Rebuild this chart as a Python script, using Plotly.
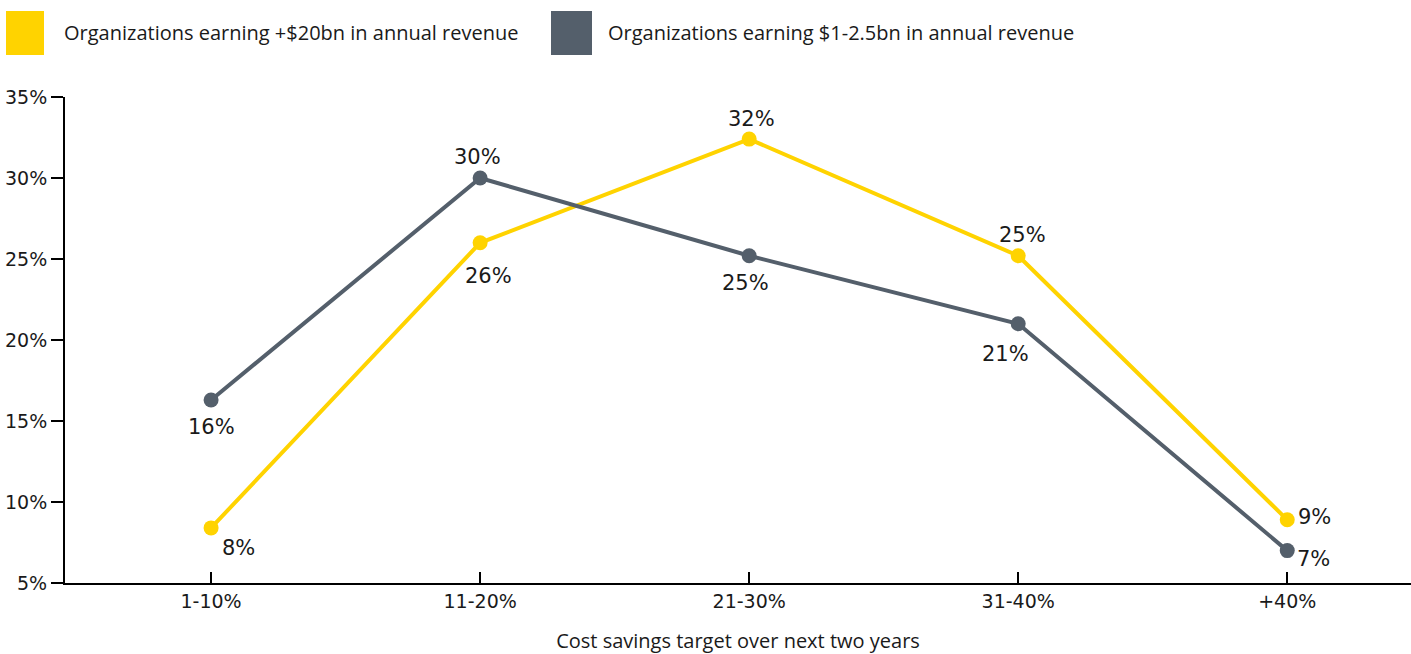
import plotly.graph_objects as go

categories = ["1-10%", "11-20%", "21-30%", "31-40%", "+40%"]
large_org = [8.4, 26.0, 32.4, 25.2, 8.9]
mid_org = [16.3, 30.0, 25.2, 21.0, 7.0]
large_labels = ["8%", "26%", "32%", "25%", "9%"]
mid_labels = ["16%", "30%", "25%", "21%", "7%"]
series_names = ["Organizations earning +$20bn in annual revenue",
                "Organizations earning $1-2.5bn in annual revenue"]
y_ticks = [5, 10, 15, 20, 25, 30, 35]
y_ticktext = ["5%", "10%", "15%", "20%", "25%", "30%", "35%"]

YELLOW = "#FFD300"
GRAY = "#545F6B"
TXT = "#1a1a1a"

fig = go.Figure()
fig.add_trace(go.Scatter(x=categories, y=large_org, mode="lines+markers",
                         line=dict(color=YELLOW, width=4),
                         marker=dict(color=YELLOW, size=15),
                         name=series_names[0], showlegend=False))
fig.add_trace(go.Scatter(x=categories, y=mid_org, mode="lines+markers",
                         line=dict(color=GRAY, width=4),
                         marker=dict(color=GRAY, size=15),
                         name=series_names[1], showlegend=False))

# label offsets (px)
large_shift = [(27, -20), (8, -33), (2, 20), (4, 21), (27, 3)]
mid_shift = [(0, -27), (-3, 21), (-4, -27), (-13, -30), (26, -8)]
annotations = []
for i, c in enumerate(categories):
    annotations.append(dict(x=c, y=large_org[i], text=large_labels[i], showarrow=False,
                            xshift=large_shift[i][0], yshift=large_shift[i][1],
                            font=dict(family="DejaVu Sans", size=21, color=TXT)))
    annotations.append(dict(x=c, y=mid_org[i], text=mid_labels[i], showarrow=False,
                            xshift=mid_shift[i][0], yshift=mid_shift[i][1],
                            font=dict(family="DejaVu Sans", size=21, color=TXT)))

# custom legend
annotations.append(dict(xref="paper", yref="paper", x=(62 - 65) / 1346, y=1 + (97 - 33) / 486,
                        xanchor="left", yanchor="middle", text=series_names[0], showarrow=False,
                        font=dict(family="Open Sans", size=20, color=TXT)))
annotations.append(dict(xref="paper", yref="paper", x=(606 - 65) / 1346, y=1 + (97 - 33) / 486,
                        xanchor="left", yanchor="middle", text=series_names[1], showarrow=False,
                        font=dict(family="Open Sans", size=20, color=TXT)))
shapes = [
    dict(type="rect", xref="paper", yref="paper",
         x0=(6 - 65) / 1346, x1=(44 - 65) / 1346,
         y0=1 + (97 - 55) / 486, y1=1 + (97 - 11) / 486,
         fillcolor=YELLOW, line=dict(width=0)),
    dict(type="rect", xref="paper", yref="paper",
         x0=(551 - 65) / 1346, x1=(592 - 65) / 1346,
         y0=1 + (97 - 55) / 486, y1=1 + (97 - 11) / 486,
         fillcolor=GRAY, line=dict(width=0)),
]

fig.update_layout(
    width=1411, height=654,
    margin=dict(l=65, r=0, t=97, b=71),
    plot_bgcolor="white", paper_bgcolor="white",
    annotations=annotations, shapes=shapes,
    xaxis=dict(type="category", range=[-0.543, 4.46],
               showline=True, linecolor="black", linewidth=2,
               ticks="inside", ticklen=11, tickwidth=2, tickcolor="black",
               showgrid=False, zeroline=False,
               tickfont=dict(family="DejaVu Sans", size=19, color=TXT),
               title=dict(text="Cost savings target over next two years", standoff=25,
                          font=dict(family="Open Sans", size=20, color=TXT))),
    yaxis=dict(range=[5, 35], tickvals=y_ticks, ticktext=y_ticktext,
               showline=True, linecolor="black", linewidth=2,
               ticks="outside", ticklen=12, tickwidth=2, tickcolor="black",
               showgrid=False, zeroline=False,
               tickfont=dict(family="DejaVu Sans", size=19, color=TXT)),
)

fig.write_html("out.html", config={"displayModeBar": False},
               post_script="document.body.style.margin='0';document.body.style.overflow='hidden';")
